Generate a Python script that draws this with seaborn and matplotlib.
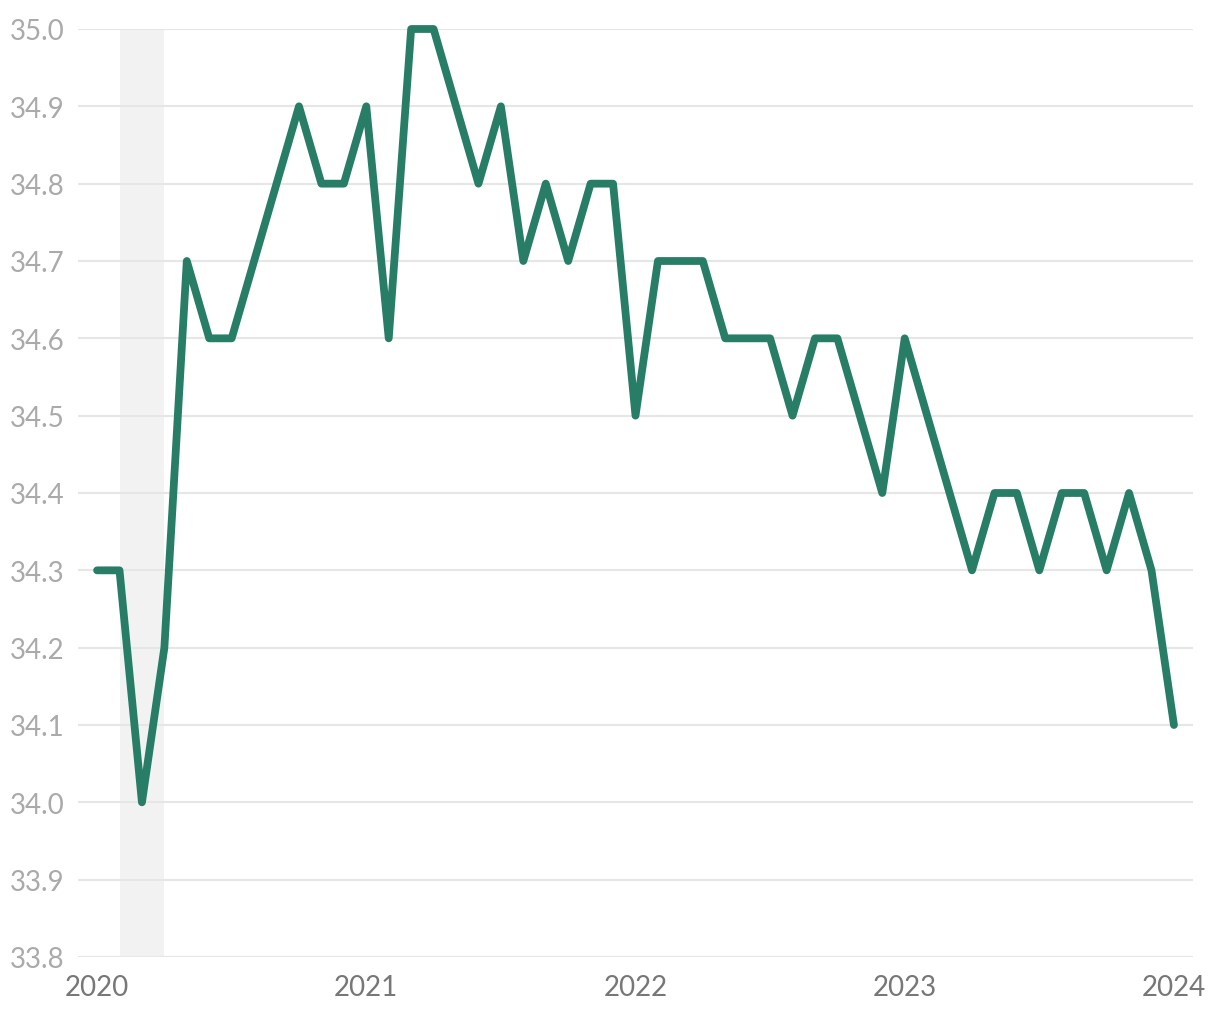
import numpy as np
import pandas as pd
import matplotlib
matplotlib.use("Agg")
import matplotlib.pyplot as plt
import seaborn as sns

# Monthly values, Jan 2020 .. Jan 2024
values = [
    34.3, 34.3, 34.0, 34.2, 34.7, 34.6, 34.6, 34.7, 34.8, 34.9, 34.8, 34.8,  # 2020
    34.9, 34.6, 35.0, 35.0, 34.9, 34.8, 34.9, 34.7, 34.8, 34.7, 34.8, 34.8,  # 2021
    34.5, 34.7, 34.7, 34.7, 34.6, 34.6, 34.6, 34.5, 34.6, 34.6, 34.5, 34.4,  # 2022
    34.6, 34.5, 34.4, 34.3, 34.4, 34.4, 34.3, 34.4, 34.4, 34.3, 34.4, 34.3,  # 2023
    34.1,                                                                    # 2024
]
months = list(range(len(values)))  # months since Jan 2020
year_ticks = [0, 12, 24, 36, 48]
year_labels = ["2020", "2021", "2022", "2023", "2024"]
y_ticks = [33.8, 33.9, 34.0, 34.1, 34.2, 34.3, 34.4, 34.5, 34.6, 34.7, 34.8, 34.9, 35.0]
recession = (1, 3)  # Feb 2020 .. Apr 2020

df = pd.DataFrame({"month": months, "value": values})

sns.set_style("white")
plt.rcParams["font.family"] = ["Lato", "DejaVu Sans"]

fig = plt.figure(figsize=(12.2, 10.2), dpi=100)
ax = fig.add_axes([78 / 1220, 1 - 958 / 1020, (1193 - 78) / 1220, (958 - 30) / 1020])

ax.axvspan(recession[0], recession[1], color="#f2f2f2", zorder=0, lw=0)

sns.lineplot(data=df, x="month", y="value", ax=ax, color="#287d67", linewidth=5.6,
             solid_capstyle="round", solid_joinstyle="round", zorder=3, clip_on=False)

ax.set_xlim(-0.85, 48.85)
ax.set_ylim(33.8, 35.0)
ax.set_yticks(y_ticks)
ax.set_yticklabels([f"{v:.1f}" for v in y_ticks])
ax.set_xticks(year_ticks)
ax.set_xticklabels(year_labels)
ax.set_xlabel("")
ax.set_ylabel("")

ax.yaxis.grid(True, color="#e6e6e6", linewidth=1.5, zorder=1)
ax.xaxis.grid(False)
ax.set_axisbelow(True)
for s in ax.spines.values():
    s.set_visible(False)

ax.tick_params(axis="y", length=0, pad=10, labelsize=20, labelcolor="#aaaaaa")
ax.tick_params(axis="x", length=0, pad=12, labelsize=20, labelcolor="#777777")

fig.savefig("out.png", dpi=100)
